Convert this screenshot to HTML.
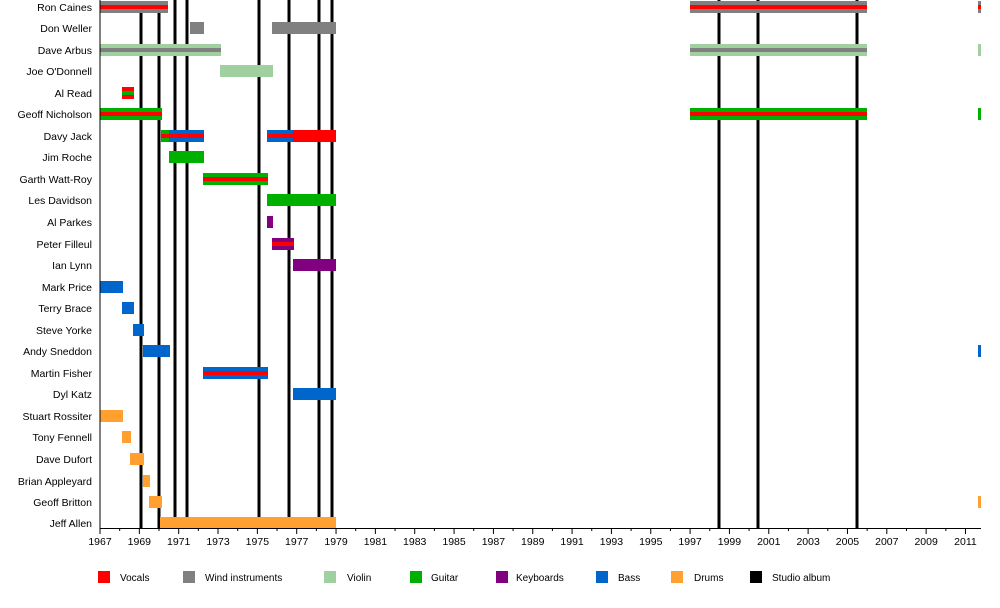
<!DOCTYPE html>
<html><head><style>body{margin:0;background:#fff}svg{display:block;font-family:"Liberation Sans",sans-serif}</style></head><body>
<svg width="1000" height="608" xmlns="http://www.w3.org/2000/svg" font-size="10.5">
<g stroke="#000" stroke-width="3">
<line x1="141" y1="12" x2="141" y2="528"/><line x1="159" y1="12" x2="159" y2="528"/><line x1="175" y1="0" x2="175" y2="528"/><line x1="187" y1="0" x2="187" y2="528"/><line x1="259" y1="0" x2="259" y2="528"/><line x1="289" y1="0" x2="289" y2="528"/><line x1="319" y1="0" x2="319" y2="528"/><line x1="332" y1="0" x2="332" y2="528"/><line x1="719" y1="0" x2="719" y2="528"/><line x1="758" y1="0" x2="758" y2="528"/><line x1="857" y1="0" x2="857" y2="528"/>
</g>
<g id="bars">
<!-- Ron Caines y=7 -->
<rect x="100" y="1" width="68" height="12" fill="#808080"/><rect x="100" y="5" width="68" height="4" fill="#f00"/>
<rect x="690" y="1" width="177" height="12" fill="#808080"/><rect x="690" y="5" width="177" height="4" fill="#f00"/>
<rect x="978" y="1" width="3" height="12" fill="#808080"/><rect x="978" y="5" width="3" height="4" fill="#f00"/>
<!-- Don Weller 28 -->
<rect x="190" y="22" width="14" height="12" fill="#808080"/><rect x="272" y="22" width="64" height="12" fill="#808080"/>
<!-- Dave Arbus 50 -->
<rect x="100" y="44" width="121" height="12" fill="#a0d0a0"/><rect x="100" y="48" width="121" height="4" fill="#808080"/>
<rect x="690" y="44" width="177" height="12" fill="#a0d0a0"/><rect x="690" y="48" width="177" height="4" fill="#808080"/>
<rect x="978" y="44" width="3" height="12" fill="#a0d0a0"/>
<!-- Joe 71 -->
<rect x="220" y="65" width="53" height="12" fill="#a0d0a0"/>
<!-- Al Read 93 -->
<rect x="122" y="87" width="12" height="12" fill="#f00"/><rect x="122" y="91" width="12" height="4" fill="#00b000"/>
<!-- Geoff Nicholson 114 -->
<rect x="100" y="108" width="62" height="12" fill="#00b000"/><rect x="100" y="112" width="62" height="4" fill="#f00"/>
<rect x="690" y="108" width="177" height="12" fill="#00b000"/><rect x="690" y="112" width="177" height="4" fill="#f00"/>
<rect x="978" y="108" width="3" height="12" fill="#00b000"/>
<!-- Davy Jack 136 -->
<rect x="161" y="130" width="43" height="12" fill="#0066cc"/><rect x="161" y="130" width="8" height="12" fill="#00b000"/><rect x="161" y="134" width="43" height="4" fill="#f00"/>
<rect x="267" y="130" width="26" height="12" fill="#0066cc"/><rect x="267" y="134" width="26" height="4" fill="#f00"/><rect x="293" y="130" width="43" height="12" fill="#f00"/>
<!-- Jim Roche 157 -->
<rect x="169" y="151" width="35" height="12" fill="#00b000"/>
<!-- Garth 179 -->
<rect x="203" y="173" width="65" height="12" fill="#00b000"/><rect x="203" y="177" width="65" height="4" fill="#f00"/>
<!-- Les 200 -->
<rect x="267" y="194" width="69" height="12" fill="#00b000"/>
<!-- Al Parkes 222 -->
<rect x="267" y="216" width="6" height="12" fill="#800080"/>
<!-- Peter 244 -->
<rect x="272" y="238" width="22" height="12" fill="#800080"/><rect x="272" y="242" width="22" height="4" fill="#f00"/>
<!-- Ian 265 -->
<rect x="293" y="259" width="43" height="12" fill="#800080"/>
<!-- Mark Price 287 -->
<rect x="100" y="281" width="23" height="12" fill="#0066cc"/>
<rect x="122" y="302" width="12" height="12" fill="#0066cc"/>
<rect x="133" y="324" width="11" height="12" fill="#0066cc"/>
<rect x="143" y="345" width="27" height="12" fill="#0066cc"/><rect x="978" y="345" width="3" height="12" fill="#0066cc"/>
<rect x="203" y="367" width="65" height="12" fill="#0066cc"/><rect x="203" y="371" width="65" height="4" fill="#f00"/>
<rect x="293" y="388" width="43" height="12" fill="#0066cc"/>
<rect x="100" y="410" width="23" height="12" fill="#ffa030"/>
<rect x="122" y="431" width="9" height="12" fill="#ffa030"/>
<rect x="130" y="453" width="14" height="12" fill="#ffa030"/>
<rect x="143" y="475" width="7" height="12" fill="#ffa030"/>
<rect x="149" y="496" width="13" height="12" fill="#ffa030"/><rect x="978" y="496" width="3" height="12" fill="#ffa030"/>
<rect x="160" y="517" width="176" height="12" fill="#ffa030"/>
</g>
<g text-anchor="end" fill="#000">
<text x="92" y="11">Ron Caines</text><text x="92" y="32">Don Weller</text><text x="92" y="54">Dave Arbus</text><text x="92" y="75">Joe O'Donnell</text><text x="92" y="97">Al Read</text><text x="92" y="118">Geoff Nicholson</text><text x="92" y="140">Davy Jack</text><text x="92" y="161">Jim Roche</text><text x="92" y="183">Garth Watt-Roy</text><text x="92" y="204">Les Davidson</text><text x="92" y="226">Al Parkes</text><text x="92" y="248">Peter Filleul</text><text x="92" y="269">Ian Lynn</text><text x="92" y="291">Mark Price</text><text x="92" y="312">Terry Brace</text><text x="92" y="334">Steve Yorke</text><text x="92" y="355">Andy Sneddon</text><text x="92" y="377">Martin Fisher</text><text x="92" y="398">Dyl Katz</text><text x="92" y="420">Stuart Rossiter</text><text x="92" y="441">Tony Fennell</text><text x="92" y="463">Dave Dufort</text><text x="92" y="485">Brian Appleyard</text><text x="92" y="506">Geoff Britton</text><text x="92" y="527">Jeff Allen</text>
</g>
<line x1="100" y1="0" x2="100" y2="529" stroke="#000" stroke-width="1"/>
<line x1="100" y1="528.5" x2="981" y2="528.5" stroke="#000" stroke-width="1"/>
<g id="ticks" stroke="#000" stroke-width="1"></g>
<g id="lbl" text-anchor="middle"></g>
<g font-size="10">
<rect x="98" y="571" width="12" height="12" fill="#f00"/><text x="120" y="581">Vocals</text>
<rect x="183" y="571" width="12" height="12" fill="#808080"/><text x="205" y="581">Wind instruments</text>
<rect x="324" y="571" width="12" height="12" fill="#a0d0a0"/><text x="347" y="581">Violin</text>
<rect x="410" y="571" width="12" height="12" fill="#00b000"/><text x="431" y="581">Guitar</text>
<rect x="496" y="571" width="12" height="12" fill="#800080"/><text x="516" y="581">Keyboards</text>
<rect x="596" y="571" width="12" height="12" fill="#0066cc"/><text x="618" y="581">Bass</text>
<rect x="671" y="571" width="12" height="12" fill="#ffa030"/><text x="694" y="581">Drums</text>
<rect x="750" y="571" width="12" height="12" fill="#000"/><text x="772" y="581">Studio album</text>
</g>
<script>
var t=document.getElementById('ticks'),l=document.getElementById('lbl'),ns='http://www.w3.org/2000/svg';
for(var y=1967;y<=2011;y++){var x=100+(y-1967)*19.67;var e=document.createElementNS(ns,'line');e.setAttribute('x1',x);e.setAttribute('x2',x);e.setAttribute('y1',528);e.setAttribute('y2',(y%2)?534:531);t.appendChild(e);
if(y%2){var s=document.createElementNS(ns,'text');s.setAttribute('x',x);s.setAttribute('y',545);s.textContent=y;l.appendChild(s);}}
</script>
</svg>
</body></html>
